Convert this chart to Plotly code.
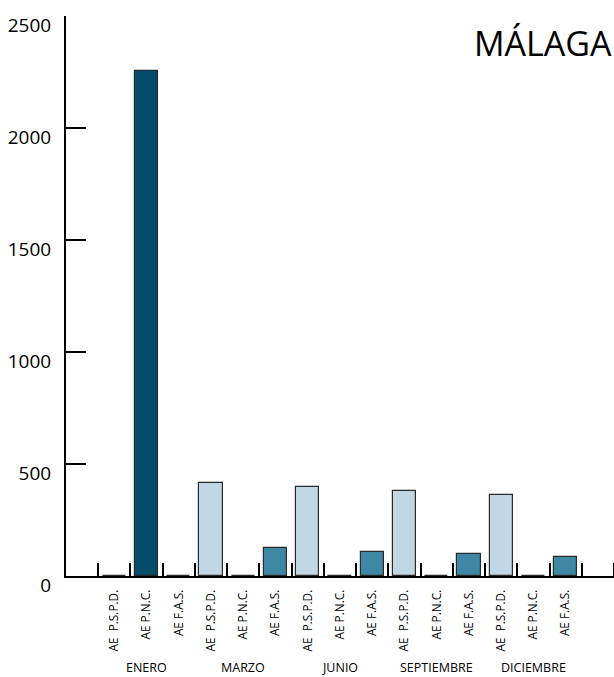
import plotly.graph_objects as go

months = ["ENERO", "MARZO", "JUNIO", "SEPTIEMBRE", "DICIEMBRE"]
series = ["AE\u00a0 P.S.P.D.", "AE P.N.C.", "AE F.A.S."]
pspd = [2, 417, 396, 381, 360]
pnc = [2255, 2, 2, 2, 2]
fas = [2, 126, 106, 100, 86]
colors = ["#C2D7E5", "#054B6A", "#3F88A5"]
y_ticks = [0, 500, 1000, 1500, 2000, 2500]

values = [pspd, pnc, fas]
n_s = len(series)
n_m = len(months)

fig = go.Figure()
for s in range(n_s):
    xs = [1 + m * n_s + s for m in range(n_m)]
    fig.add_trace(go.Bar(
        x=xs, y=values[s], name=series[s].strip(), width=0.72,
        marker=dict(color=colors[s], line=dict(color="#2a2a2a", width=1.2)),
        showlegend=False,
    ))

centers = [1 + m * n_s + s for m in range(n_m) for s in range(n_s)]
labels = [series[s] for m in range(n_m) for s in range(n_s)]
n_slots = n_s * n_m + 2
bounds = [i + 0.5 for i in range(n_slots)]

font = "Open Sans, sans-serif"
fig.update_layout(
    width=614, height=677,
    margin=dict(l=66, r=0, t=16, b=101),
    paper_bgcolor="white", plot_bgcolor="white",
    font=dict(family=font, color="black"),
    bargap=0,
    xaxis=dict(
        range=[-0.5, n_slots - 0.5], automargin=False,
        tickvals=centers, ticktext=labels, tickangle=-90,
        tickfont=dict(size=11.8, family=font), ticks="",
        ticklabelstandoff=7,
        showgrid=False, zeroline=False,
        showline=True, linecolor="black", linewidth=2,
        minor=dict(tickvals=bounds, ticks="inside", ticklen=13, tickwidth=2.2, tickcolor="black", showgrid=False),
    ),
    yaxis=dict(
        range=[0, 2500.5], tickvals=y_ticks, automargin=False,
        ticks="inside", ticklen=20, tickwidth=2, tickcolor="black",
        tickfont=dict(size=19, family=font),
        ticklabelshift=9, ticklabelstandoff=9,
        showgrid=False, zeroline=False,
        showline=True, linecolor="black", linewidth=2,
    ),
)

for m, name in enumerate(months):
    fig.add_annotation(
        x=1 + m * n_s + 1, y=-0.1625, xref="x", yref="paper",
        text=name, showarrow=False, yanchor="middle", xanchor="center",
        font=dict(size=12.5, family=font, color="black"),
    )

fig.add_annotation(
    x=1.0, y=(576 - 43) / 560, xref="paper", yref="paper",
    text="MÁLAGA", showarrow=False, xanchor="right", yanchor="middle",
    font=dict(size=34, family=font, color="black"),
)

fig.write_html(
    "out.html",
    config={"displayModeBar": False},
    post_script="document.body.style.margin='0';document.body.style.overflow='hidden';",
)
